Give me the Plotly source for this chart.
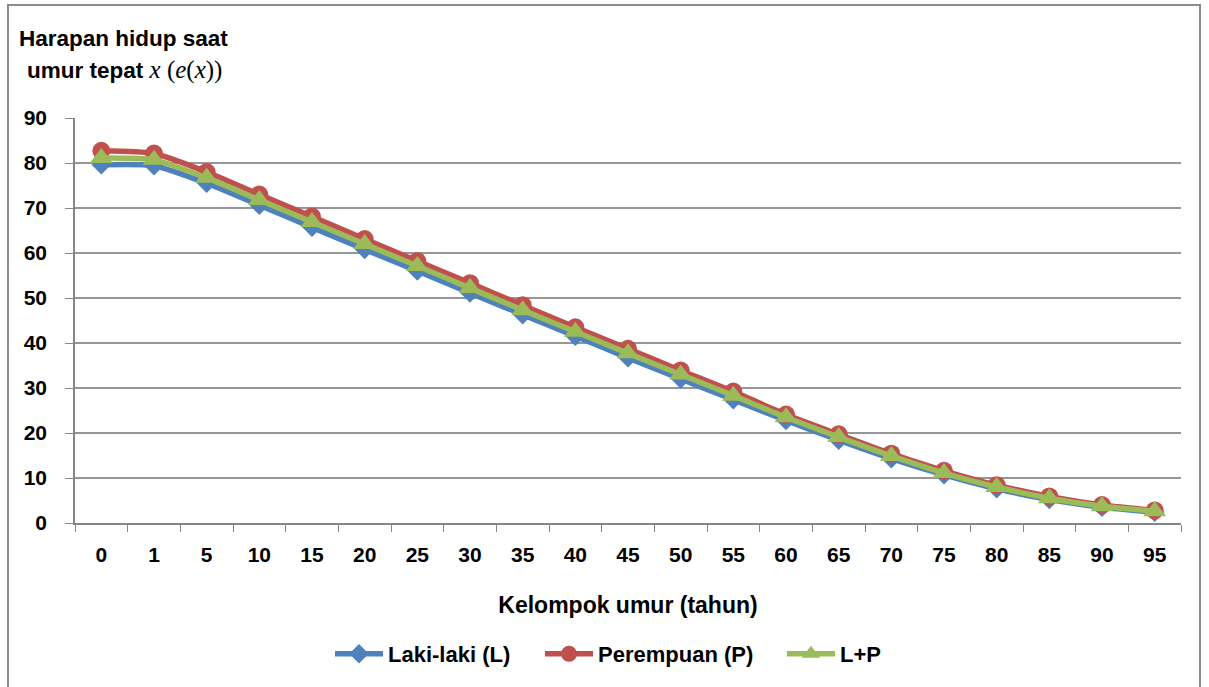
import plotly.graph_objects as go

categories = ["0", "1", "5", "10", "15", "20", "25", "30", "35", "40", "45",
              "50", "55", "60", "65", "70", "75", "80", "85", "90", "95"]
laki = [79.6, 79.4, 75.5, 70.6, 65.7, 60.8, 56.0, 51.1, 46.3, 41.5, 36.7,
        32.0, 27.4, 22.8, 18.4, 14.3, 10.7, 7.6, 5.2, 3.5, 2.4]
perempuan = [82.7, 82.1, 78.0, 73.0, 68.1, 63.1, 58.2, 53.3, 48.4, 43.5, 38.7,
             33.9, 29.2, 24.1, 19.7, 15.4, 11.6, 8.4, 5.9, 4.0, 2.8]
total = [81.1, 80.7, 76.7, 71.8, 66.9, 62.0, 57.1, 52.2, 47.3, 42.5, 37.7,
         33.0, 28.3, 23.5, 19.1, 14.9, 11.1, 8.0, 5.5, 3.7, 2.6]
y_ticks = [0, 10, 20, 30, 40, 50, 60, 70, 80, 90]

FONT = "Liberation Sans, Arial, sans-serif"

fig = go.Figure()
fig.add_trace(go.Scatter(x=categories, y=laki, name="Laki-laki (L)", mode="lines+markers",
                         legend="legend",
                         line=dict(color="#4F81BD", width=5.5, shape="spline", smoothing=0.6),
                         marker=dict(symbol="diamond", size=15, color="#4F81BD")))
fig.add_trace(go.Scatter(x=categories, y=perempuan, name="Perempuan (P)", mode="lines+markers",
                         legend="legend2",
                         line=dict(color="#C0504D", width=5.5, shape="spline", smoothing=0.6),
                         marker=dict(symbol="circle", size=18, color="#C0504D")))
fig.add_trace(go.Scatter(x=categories, y=total, name="L+P", mode="lines+markers",
                         legend="legend3",
                         line=dict(color="#9BBB59", width=5.5, shape="spline", smoothing=0.6),
                         marker=dict(symbol="triangle-up", size=20, color="#9BBB59")))

W, H = 1209, 687
L, R, T, B = 75, 1181, 118, 523
pw, ph = R - L, B - T


def leg(px):
    return dict(orientation="h", x=(px - L) / pw, xanchor="left", y=(B - 654) / ph, yanchor="middle",
                font=dict(family=FONT, size=22, color="black", weight="bold"), itemwidth=48,
                bgcolor="rgba(0,0,0,0)")


fig.update_layout(
    width=W, height=H,
    margin=dict(l=L, r=W - R, t=T, b=H - B, autoexpand=False),
    paper_bgcolor="white", plot_bgcolor="white",
    font=dict(family=FONT, size=21, color="black"),
    showlegend=True,
    legend=leg(330), legend2=leg(540), legend3=leg(782),
    xaxis=dict(type="category", showgrid=False, showline=True, linecolor="#868686", linewidth=1.5,
               ticks="outside", ticklen=7, tickcolor="#868686", tickson="boundaries",
               ticklabelstandoff=12,
               tickfont=dict(family=FONT, size=21, color="black", weight="bold"),
               title=dict(text="<b>Kelompok umur (tahun)</b>", standoff=32,
                          font=dict(family=FONT, size=23, color="black")),
               range=[-0.5, 20.5]),
    yaxis=dict(range=[0, 90], tickvals=y_ticks, showgrid=True, gridcolor="#969696", gridwidth=1.5,
               showline=True, linecolor="#868686", linewidth=1.5, zeroline=False,
               ticks="outside", ticklen=8, tickcolor="#868686", ticklabelstandoff=14,
               tickfont=dict(family=FONT, size=21, color="black", weight="bold")),
)

fig.add_annotation(xref="paper", yref="paper", x=(17 - L) / pw, y=(B - 38) / ph,
                   xanchor="left", yanchor="middle", align="left", showarrow=False,
                   text="<b>Harapan hidup saat</b>",
                   font=dict(family=FONT, size=22.5, color="black"))
fig.add_annotation(xref="paper", yref="paper", x=(25 - L) / pw, y=(B - 70) / ph,
                   xanchor="left", yanchor="middle", align="left", showarrow=False,
                   text="<b>umur tepat </b><span style='font-family:Liberation Serif,Times New Roman,serif;font-size:25px'><i>x</i> (<i>e</i>(<i>x</i>))</span>",
                   font=dict(family=FONT, size=22.5, color="black"))

fig.add_shape(type="rect", xref="paper", yref="paper",
              x0=(8 - L) / pw, x1=(1200 - L) / pw, y0=(B - 700) / ph, y1=(B - 5) / ph,
              line=dict(color="#8C8C8C", width=2), fillcolor="rgba(0,0,0,0)", layer="below")

fig.write_html("out.html", config={"displayModeBar": False},
               post_script="document.body.style.margin='0px';document.body.style.overflow='hidden';")
